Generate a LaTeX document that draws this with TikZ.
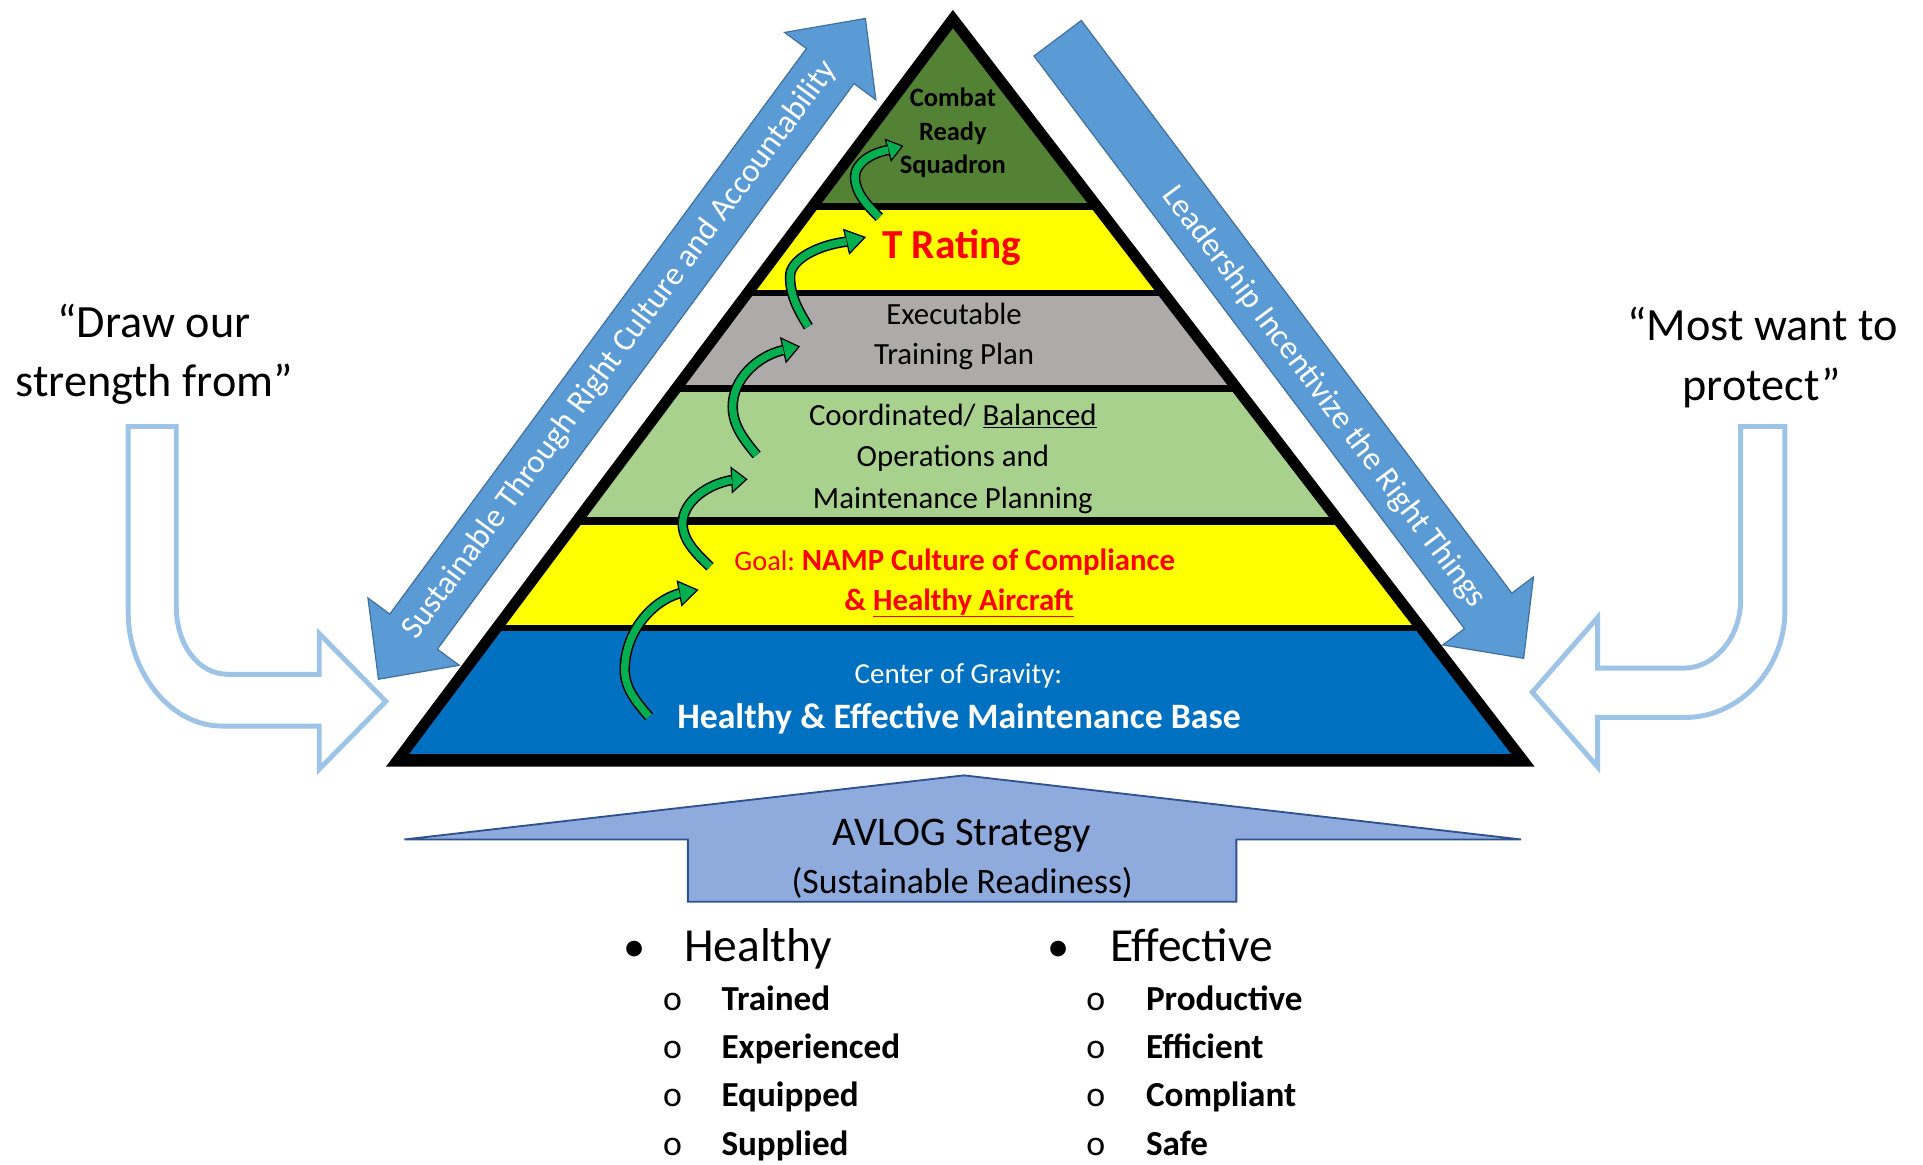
\documentclass[tikz,border=0pt]{standalone}
\usepackage{fontspec}
\setmainfont{Carlito}
\frenchspacing
\newcommand{\setfs}[1]{\fontsize{#1}{#1}\selectfont}
\definecolor{cgreen}{RGB}{84,130,53}
\definecolor{cyellow}{RGB}{255,255,0}
\definecolor{cgray}{RGB}{174,170,170}
\definecolor{lgreen}{RGB}{169,209,142}
\definecolor{cblue}{RGB}{0,112,192}
\definecolor{abl}{RGB}{91,155,213}
\definecolor{abledge}{RGB}{65,113,156}
\definecolor{avl}{RGB}{143,170,220}
\definecolor{avledge}{RGB}{47,82,143}
\definecolor{hol}{RGB}{157,195,230}
\definecolor{garrow}{RGB}{0,176,80}
\definecolor{cred}{RGB}{255,0,0}
\tikzset{
  txt/.style={inner sep=0pt, outer sep=0pt, anchor=base},
  txtw/.style={inner sep=0pt, outer sep=0pt, anchor=base west},
  bluearrow/.style={fill=abl, draw=abledge, line width=1, line join=miter},
  hollow/.style={fill=white, draw=hol, line width=4, line join=miter},
  gout/.style={draw=black, line width=8.5},
  gin/.style={draw=garrow, line width=6},
  ghead/.style={fill=garrow, draw=black, line width=1, line join=miter},
  pyrtxt/.style={txt, font=\setfs{25}},
}
\newcommand{\garrow}[8]{%
  \draw[gout] (#1) .. controls (#2) and (#3) .. (#4) .. controls (#5) and (#6) .. (#7);
  \filldraw[ghead] #8 -- cycle;
  \draw[gin] (#1) .. controls (#2) and (#3) .. (#4) .. controls (#5) and (#6) .. (#7);
}
\begin{document}
\begin{tikzpicture}[x=1pt,y=-1pt]
\useasboundingbox[fill=white] (0,0) rectangle (1560,945);

% ---------- blue diagonal arrows ----------
\filldraw[bluearrow] (307,551) -- (372.5,539.7) -- (354.8,526.6) -- (692.8,67.8) -- (710.5,80.9) -- (702,15) -- (636.5,26.3) -- (654.2,39.4) -- (316.2,498.2) -- (298.5,485.1) -- cycle;
\node[inner sep=0pt, text=white, font=\setfs{26.7}, rotate=53.6] (sust) at (503,284) {Sustainable Through Right Culture and Accountability};

\filldraw[bluearrow] (877.2,16.6) -- (1226.4,481.2) -- (1244.0,468.0) -- (1236,534) -- (1170.4,523.2) -- (1188.0,510.0) -- (838.8,45.4) -- cycle;
\node[inner sep=0pt, text=white, font=\setfs{26.7}, rotate=-53.1] (lead) at (1074,322) {Leadership Incentivize the Right Things};

% ---------- hollow bent arrows ----------
\draw[hollow] (104,346) -- (104,497) .. controls (104,545) and (138,589) .. (180,589) -- (259,589) -- (259,624) -- (313,569) -- (259,514) -- (259,547) -- (185,547) .. controls (160,547) and (143,522) .. (143,492) -- (143,346) -- cycle;
\draw[hollow] (1412,346) -- (1412,487) .. controls (1412,517) and (1391,542) .. (1366,542) -- (1296,542) -- (1296,501) -- (1243,561.5) -- (1296,622) -- (1296,582) -- (1367,582) .. controls (1411,582) and (1448,543) .. (1448,495) -- (1448,346) -- cycle;

\node[txt, font=\setfs{37.5}] (q1a) at (125,274) {“Draw our};
\node[txt, font=\setfs{37.5}] (q1b) at (125,322) {strength from”};
\node[txt, font=\setfs{37.5}] (q2a) at (1430,276) {“Most want to};
\node[txt, font=\setfs{37.5}] (q2b) at (1429,324.5) {protect”};

% ---------- pyramid ----------
\fill[black] (313,622) -- (773,8) -- (1245,622) -- cycle;
\begin{scope}
  \clip (331.7,612) -- (773,23) -- (1226,612) -- cycle;
  \fill[cgreen]  (300,0)   rectangle (1260,165);
  \fill[cyellow] (300,170) rectangle (1260,235);
  \fill[cgray]   (300,240) rectangle (1260,312);
  \fill[lgreen]  (300,318) rectangle (1260,419);
  \fill[cyellow] (300,426) rectangle (1260,507);
  \fill[cblue]   (300,512) rectangle (1260,612);
\end{scope}

% ---------- green step arrows ----------
\garrow{526.5,581.4}{516.7,570.0}{506.8,558.7}{506.8,543.5}{506.8,512.4}{529.1,487.5}{551.3,481.3}{(553.1,491.1) -- (565.8,478.6) -- (549.5,471.5)}
\garrow{576,459.7}{564.9,449.1}{553.8,438.6}{553.8,424.5}{553.8,407.0}{573.7,392.9}{593.6,389.4}{(594.1,399.4) -- (605.7,388.8) -- (593.1,379.4)}
\garrow{613.8,369.1}{604.1,357.3}{594.4,345.6}{594.4,329.9}{594.4,307.0}{615.0,288.6}{635.5,284}{(637.7,293.8) -- (648.2,281.2) -- (633.4,274.2)}
\garrow{655.7,265}{648.3,252.8}{640.9,240.6}{640.9,224.4}{640.9,210.2}{663.9,198.8}{686.8,196}{(689.1,205.7) -- (701.7,192.5) -- (684.5,186.3)}
\garrow{713.3,176.3}{703.5,166.4}{693.6,156.5}{693.6,143.3}{693.6,132.5}{707.1,123.9}{720.6,121.7}{(723.0,130.3) -- (732.1,118.5) -- (718.2,113.1)}

% ---------- pyramid texts ----------
\node[txt, font=\setfs{21.5}\bfseries] (combat) at (773,86) {Combat};
\node[txt, font=\setfs{21.5}\bfseries] (ready) at (773,113.6) {Ready};
\node[txt, font=\setfs{21.5}\bfseries] (squadron) at (773,140.6) {Squadron};
\node[txt, font=\setfs{33.5}\bfseries, text=cred] (trating) at (772,209.6) {T Rating};
\node[pyrtxt] (exe1) at (774,263.6) {Executable};
\node[pyrtxt] (exe2) at (774,296) {Training Plan};
\node[pyrtxt] (coo1) at (773,344.8) {Coordinated/ \underline{Balanced}};
\node[pyrtxt] (coo2) at (773,378.6) {Operations and};
\node[pyrtxt] (coo3) at (773,412.4) {Maintenance Planning};
\node[txt, font=\setfs{25}, text=cred] (goal1) at (774.5,462.4) {{\setfs{23}Goal:}\ {\bfseries NAMP Culture of Compliance}};
\node[txt, font=\setfs{25}\bfseries, text=cred] (goal2) at (778,494.9) {\& \underline{Healthy Aircraft}};
\node[txt, font=\setfs{23.5}, text=white] (cog1) at (777.5,554.3) {Center of Gravity:};
\node[txt, font=\setfs{29}\bfseries, text=white] (cog2) at (778,590.8) {Healthy \& Effective Maintenance Base};

% ---------- AVLOG arrow ----------
\filldraw[fill=avl, draw=avledge, line width=1.5, line join=miter] (328,681) -- (782,629) -- (1234,681) -- (1003,681) -- (1003,731.5) -- (558,731.5) -- (558,681) -- cycle;
\node[txt, font=\setfs{33}] (avlog) at (780,685.5) {AVLOG Strategy};
\node[txt, font=\setfs{29}] (sustr) at (780.6,724.7) {(Sustainable Readiness)};

% ---------- bullet lists ----------
\node[txt, font=\setfs{36}] (bh) at (515,780) {•};
\node[txtw, font=\setfs{38.5}] (healthy) at (555,780) {Healthy};
\node[txt, font=\setfs{29}] (o1) at (545.5,819.9) {o};
\node[txt, font=\setfs{29}] (o2) at (545.5,858.5) {o};
\node[txt, font=\setfs{29}] (o3) at (545.5,897.8) {o};
\node[txt, font=\setfs{29}] (o4) at (545.5,937) {o};
\node[txtw, font=\setfs{28.5}\bfseries] (h1) at (585.3,819.9) {Trained};
\node[txtw, font=\setfs{28.5}\bfseries] (h2) at (585.3,858.5) {Experienced};
\node[txtw, font=\setfs{28.5}\bfseries] (h3) at (585.3,897.8) {Equipped};
\node[txtw, font=\setfs{28.5}\bfseries] (h4) at (585.3,937) {Supplied};

\node[txt, font=\setfs{36}] (be) at (858.5,780) {•};
\node[txtw, font=\setfs{38.5}] (effective) at (900.5,780) {Effective};
\node[txt, font=\setfs{29}] (p1) at (889,819.9) {o};
\node[txt, font=\setfs{29}] (p2) at (889,858.5) {o};
\node[txt, font=\setfs{29}] (p3) at (889,897.8) {o};
\node[txt, font=\setfs{29}] (p4) at (889,937) {o};
\node[txtw, font=\setfs{28.5}\bfseries] (e1) at (929.7,819.9) {Productive};
\node[txtw, font=\setfs{28.5}\bfseries] (e2) at (929.7,858.5) {Efficient};
\node[txtw, font=\setfs{28.5}\bfseries] (e3) at (929.7,897.8) {Compliant};
\node[txtw, font=\setfs{28.5}\bfseries] (e4) at (929.7,937) {Safe};
\end{tikzpicture}
\end{document}
